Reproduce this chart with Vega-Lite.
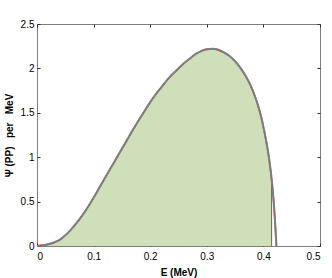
{
  "$schema": "https://vega.github.io/schema/vega-lite/v6.json",
  "width": 283,
  "height": 222,
  "autosize": {"type": "none"},
  "padding": {"left": 37, "top": 24, "right": 12, "bottom": 32},
  "background": "white",
  "config": {
    "view": {"stroke": "#7f7f7f", "strokeWidth": 1},
    "axis": {
      "grid": false,
      "zindex": 2,
      "domain": false,
      "offset": -3,
      "tickColor": "#333",
      "tickSize": 3,
      "tickWidth": 1,
      "labelFont": "Liberation Sans",
      "labelFontSize": 10,
      "labelColor": "#000",
      "titleFont": "Liberation Sans",
      "titleFontSize": 10,
      "titleFontWeight": "bold",
      "titleColor": "#000"
    }
  },
  "datasets": {
    "spec": [
      {"E": 0, "psi": 0},
      {"E": 0.01, "psi": 0.008},
      {"E": 0.02, "psi": 0.02},
      {"E": 0.03, "psi": 0.04},
      {"E": 0.04, "psi": 0.068},
      {"E": 0.05, "psi": 0.12},
      {"E": 0.06, "psi": 0.185},
      {"E": 0.07, "psi": 0.26},
      {"E": 0.08, "psi": 0.345},
      {"E": 0.09, "psi": 0.44},
      {"E": 0.1, "psi": 0.545},
      {"E": 0.11, "psi": 0.655},
      {"E": 0.12, "psi": 0.765},
      {"E": 0.13, "psi": 0.875},
      {"E": 0.14, "psi": 0.985},
      {"E": 0.15, "psi": 1.095},
      {"E": 0.16, "psi": 1.205},
      {"E": 0.17, "psi": 1.315},
      {"E": 0.18, "psi": 1.42},
      {"E": 0.19, "psi": 1.52},
      {"E": 0.2, "psi": 1.62},
      {"E": 0.21, "psi": 1.71},
      {"E": 0.22, "psi": 1.79},
      {"E": 0.23, "psi": 1.87},
      {"E": 0.24, "psi": 1.94},
      {"E": 0.25, "psi": 2.0},
      {"E": 0.26, "psi": 2.06},
      {"E": 0.27, "psi": 2.11},
      {"E": 0.28, "psi": 2.16},
      {"E": 0.29, "psi": 2.195},
      {"E": 0.3, "psi": 2.215},
      {"E": 0.31, "psi": 2.222},
      {"E": 0.32, "psi": 2.21},
      {"E": 0.33, "psi": 2.18},
      {"E": 0.34, "psi": 2.14},
      {"E": 0.35, "psi": 2.08},
      {"E": 0.36, "psi": 2.0},
      {"E": 0.37, "psi": 1.9},
      {"E": 0.38, "psi": 1.77},
      {"E": 0.386, "psi": 1.67},
      {"E": 0.392, "psi": 1.55},
      {"E": 0.397, "psi": 1.43},
      {"E": 0.401, "psi": 1.31},
      {"E": 0.405, "psi": 1.18},
      {"E": 0.409, "psi": 1.03},
      {"E": 0.413, "psi": 0.84},
      {"E": 0.416, "psi": 0.66},
      {"E": 0.419, "psi": 0.43},
      {"E": 0.421, "psi": 0.23},
      {"E": 0.423, "psi": 0}
    ],
    "fill": [
      {"E": 0, "psi": 0},
      {"E": 0.01, "psi": 0.008},
      {"E": 0.02, "psi": 0.02},
      {"E": 0.03, "psi": 0.04},
      {"E": 0.04, "psi": 0.068},
      {"E": 0.05, "psi": 0.12},
      {"E": 0.06, "psi": 0.185},
      {"E": 0.07, "psi": 0.26},
      {"E": 0.08, "psi": 0.345},
      {"E": 0.09, "psi": 0.44},
      {"E": 0.1, "psi": 0.545},
      {"E": 0.11, "psi": 0.655},
      {"E": 0.12, "psi": 0.765},
      {"E": 0.13, "psi": 0.875},
      {"E": 0.14, "psi": 0.985},
      {"E": 0.15, "psi": 1.095},
      {"E": 0.16, "psi": 1.205},
      {"E": 0.17, "psi": 1.315},
      {"E": 0.18, "psi": 1.42},
      {"E": 0.19, "psi": 1.52},
      {"E": 0.2, "psi": 1.62},
      {"E": 0.21, "psi": 1.71},
      {"E": 0.22, "psi": 1.79},
      {"E": 0.23, "psi": 1.87},
      {"E": 0.24, "psi": 1.94},
      {"E": 0.25, "psi": 2.0},
      {"E": 0.26, "psi": 2.06},
      {"E": 0.27, "psi": 2.11},
      {"E": 0.28, "psi": 2.16},
      {"E": 0.29, "psi": 2.195},
      {"E": 0.3, "psi": 2.215},
      {"E": 0.31, "psi": 2.222},
      {"E": 0.32, "psi": 2.21},
      {"E": 0.33, "psi": 2.18},
      {"E": 0.34, "psi": 2.14},
      {"E": 0.35, "psi": 2.08},
      {"E": 0.36, "psi": 2.0},
      {"E": 0.37, "psi": 1.9},
      {"E": 0.38, "psi": 1.77},
      {"E": 0.386, "psi": 1.67},
      {"E": 0.392, "psi": 1.55},
      {"E": 0.397, "psi": 1.43},
      {"E": 0.401, "psi": 1.31},
      {"E": 0.405, "psi": 1.18},
      {"E": 0.409, "psi": 1.03},
      {"E": 0.413, "psi": 0.84},
      {"E": 0.4145, "psi": 0.75}
    ],
    "edge": [
      {"E": 0.4145, "psi": 0.75},
      {"E": 0.4145, "psi": 0}
    ]
  },
  "resolve": {"axis": {"x": "independent", "y": "independent"}},
  "layer": [
    {
      "data": {"name": "fill"},
      "mark": {"type": "area", "color": "#cfdfb9", "interpolate": "monotone"},
      "encoding": {
        "x": {"field": "E", "type": "quantitative", "scale": {"domain": [0, 0.5], "nice": false, "zero": false},
              "axis": {"title": "E (MeV)", "values": [0, 0.1, 0.2, 0.3, 0.4, 0.5], "format": ".1~f", "labelPadding": 5, "titlePadding": 6}},
        "y": {"field": "psi", "type": "quantitative", "scale": {"domain": [0, 2.5], "nice": false},
              "axis": {"title": "Ψ (PP)\u00a0\u00a0 per\u00a0\u00a0 MeV", "values": [0, 0.5, 1, 1.5, 2, 2.5], "format": ".1~f", "labelPadding": 3, "titlePadding": 6}}
      }
    },
    {
      "data": {"name": "edge"},
      "mark": {"type": "line", "color": "#5f6f4f", "strokeWidth": 1},
      "encoding": {
        "x": {"field": "E", "type": "quantitative", "axis": {"orient": "top", "labels": false, "title": null, "values": [0, 0.1, 0.2, 0.3, 0.4, 0.5]}},
        "y": {"field": "psi", "type": "quantitative", "axis": {"orient": "right", "labels": false, "title": null, "values": [0, 0.5, 1, 1.5, 2, 2.5]}}
      }
    },
    {
      "data": {"name": "spec"},
      "mark": {"type": "line", "color": "#ff2020", "strokeWidth": 2, "interpolate": "monotone"},
      "encoding": {"x": {"field": "E", "type": "quantitative", "axis": null}, "y": {"field": "psi", "type": "quantitative", "axis": null}}
    },
    {
      "data": {"name": "spec"},
      "mark": {"type": "line", "color": "#20e0e8", "strokeWidth": 1.3, "interpolate": "monotone"},
      "encoding": {"x": {"field": "E", "type": "quantitative", "axis": null}, "y": {"field": "psi", "type": "quantitative", "axis": null}}
    },
    {
      "data": {"name": "spec"},
      "mark": {"type": "line", "color": "#6a6a6a", "strokeWidth": 0.9, "interpolate": "monotone"},
      "encoding": {"x": {"field": "E", "type": "quantitative", "axis": null}, "y": {"field": "psi", "type": "quantitative", "axis": null}}
    }
  ]
}
